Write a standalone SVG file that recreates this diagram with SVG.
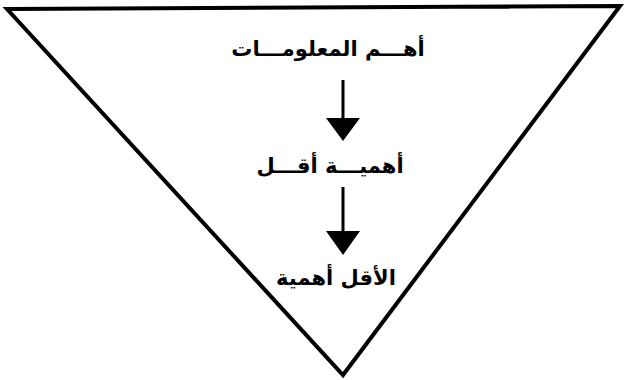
<svg xmlns="http://www.w3.org/2000/svg" width="624" height="380" viewBox="0 0 624 380">
<style>
.t{font-family:"DejaVu Sans",sans-serif;font-weight:bold;font-size:21px;fill:#000;text-anchor:middle;direction:rtl}
.edge{fill:none;stroke:#000;stroke-width:4;stroke-linejoin:miter}
.stem{stroke:#000;stroke-width:3}
.head{fill:#000}
</style>
<rect width="624" height="380" fill="#fff"/>
<g id="triangle"><path class="edge" d="M7,9 L620,6 L343,375 Z"/></g>
<g id="n1"><text class="t" x="328" y="56">أهـــم المعلومـــات</text></g>
<g id="n2"><text class="t" x="330" y="173">أهميـــة أقـــل</text></g>
<g id="n3"><text class="t" x="336" y="285">الأقل أهمية</text></g>
<g id="connectors">
<line class="stem" x1="343" y1="80" x2="343" y2="122"/>
<polygon class="head" points="326,118 360,118 343,141"/>
<line class="stem" x1="343" y1="187" x2="343" y2="235"/>
<polygon class="head" points="326,231 360,231 343,255"/>
</g>
</svg>
